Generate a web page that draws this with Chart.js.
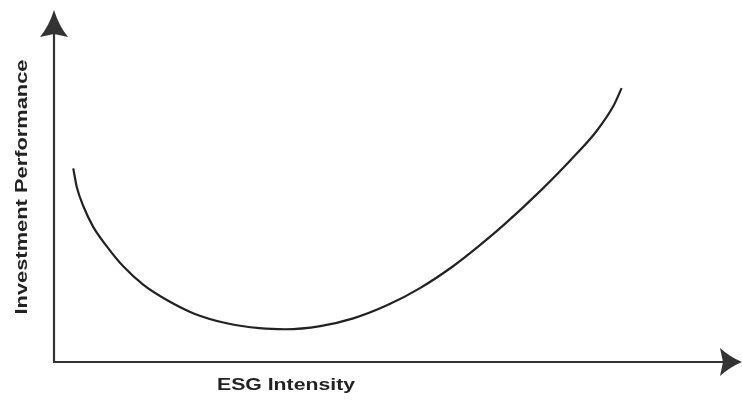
<!DOCTYPE html>
<html>
<head>
<meta charset="utf-8">
<title>ESG Intensity vs Investment Performance</title>
<script src="https://cdn.jsdelivr.net/npm/chart.js@4.4.1/dist/chart.umd.min.js"></script>
<style>
  html, body { margin: 0; padding: 0; background: #fff; }
  #wrap { width: 742px; height: 403px; position: relative; }
</style>
</head>
<body>
<div id="wrap"><canvas id="chart"></canvas></div>
<script>
// curve (x: ESG intensity, y: investment performance, both 0-100)
const esgIntensity = [2.8, 3.3, 4.3, 5.7, 7.7, 10.1, 13.0, 16.4, 20.3, 25.1, 29.9, 33.6, 38.7, 43.5, 48.4, 53.2, 58.0, 61.6, 65.3, 70.2, 75.0, 78.9, 81.3, 82.5];
const performance = [55.0, 49.8, 44.1, 38.4, 32.8, 27.1, 21.9, 17.6, 13.8, 11.0, 9.6, 9.3, 10.2, 12.4, 16.1, 21.0, 27.2, 32.7, 38.8, 47.7, 57.2, 65.7, 72.7, 77.8];
const xTitle = 'ESG Intensity';
const yTitle = 'Investment Performance';

const axisColor = '#333';
const inkColor = '#222';
const labelFont = "bold 17px 'Liberation Sans Narrow', 'Arial Narrow', 'Liberation Sans', sans-serif";

// draws text squeezed to a given width so the condensed look holds whatever font is found
function fitText(ctx, text, cx, cy, width, angle) {
  ctx.save();
  ctx.translate(cx, cy);
  ctx.rotate(angle);
  const w = ctx.measureText(text).width;
  ctx.scale(width / w, 1);
  ctx.fillText(text, 0, 0);
  ctx.restore();
}

const arrowAxes = {
  id: 'arrowAxes',
  afterDraw(chart) {
    const { ctx, chartArea: a } = chart;
    const x0 = a.left, y0 = a.bottom;
    ctx.save();
    ctx.strokeStyle = axisColor;
    ctx.fillStyle = axisColor;
    ctx.lineWidth = 2.2;
    ctx.beginPath();
    ctx.moveTo(x0, a.top + 20);
    ctx.lineTo(x0, y0);
    ctx.lineTo(a.right - 14, y0);
    ctx.stroke();

    // up arrow
    ctx.beginPath();
    ctx.moveTo(x0, a.top);
    ctx.quadraticCurveTo(x0 + 5, a.top + 16, x0 + 14, a.top + 27);
    ctx.lineTo(x0, a.top + 24);
    ctx.lineTo(x0 - 14, a.top + 27);
    ctx.quadraticCurveTo(x0 - 5, a.top + 16, x0, a.top);
    ctx.fill();

    // right arrow
    ctx.beginPath();
    ctx.moveTo(a.right, y0);
    ctx.quadraticCurveTo(a.right - 12, y0 + 5, a.right - 22, y0 + 14);
    ctx.lineTo(a.right - 19, y0);
    ctx.lineTo(a.right - 22, y0 - 14);
    ctx.quadraticCurveTo(a.right - 12, y0 - 5, a.right, y0);
    ctx.fill();

    ctx.fillStyle = inkColor;
    ctx.font = labelFont;
    ctx.textAlign = 'center';
    ctx.textBaseline = 'middle';
    fitText(ctx, xTitle, x0 + 232, y0 + 23, 138, 0);
    fitText(ctx, yTitle, x0 - 32, a.top + 177, 255, -Math.PI / 2);
    ctx.restore();
  }
};

new Chart(document.getElementById('chart'), {
  type: 'line',
  data: {
    datasets: [{
      data: esgIntensity.map((x, i) => ({ x: x, y: performance[i] })),
      borderColor: inkColor,
      borderWidth: 2.2,
      pointRadius: 0,
      fill: false,
      cubicInterpolationMode: 'monotone'
    }]
  },
  options: {
    responsive: true,
    maintainAspectRatio: false,
    animation: false,
    layout: { padding: { left: 54, right: 0, top: 10, bottom: 41 } },
    plugins: { legend: { display: false }, tooltip: { enabled: false } },
    scales: {
      x: { type: 'linear', min: 0, max: 100, display: false },
      y: { type: 'linear', min: 0, max: 100, display: false }
    }
  },
  plugins: [arrowAxes]
});
</script>
</body>
</html>
